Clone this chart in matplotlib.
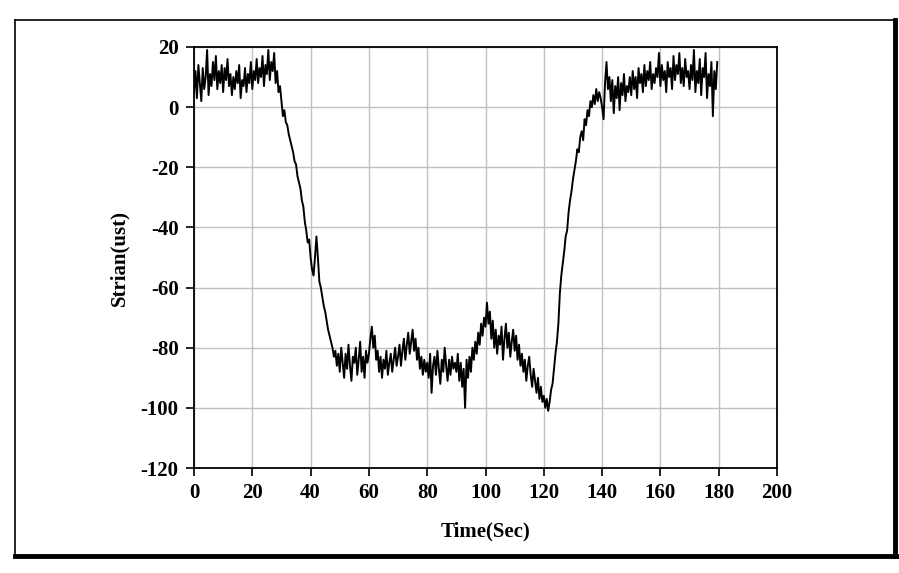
import numpy as np
import matplotlib
matplotlib.use("Agg")
import matplotlib.pyplot as plt
from matplotlib.lines import Line2D

# strain readings, one every 0.5 s
strain = [
    # 0 - 10 s
    5, 12, 3, 14, 8, 2, 13, 6, 10, 19, 4, 11, 7, 15, 9, 17, 6, 12, 8, 14,
    # 10 - 20 s
    5, 13, 9, 16, 7, 11, 4, 10, 6, 12, 8, 14, 3, 9, 7, 13, 5, 11, 8, 15,
    # 20 - 30 s
    6, 12, 9, 16, 8, 13, 10, 17, 7, 14, 11, 19, 9, 15, 12, 18, 8, 12, 5, 7,
    # 30 - 40 s
    2, -3, -1, -5, -6, -9, -11, -13, -15, -18, -19, -23, -25, -27, -31, -33, -38, -41, -45, -44,
    # 40 - 50 s
    -50, -54, -56, -50, -43, -50, -58, -60, -63, -66, -68, -71, -74, -76, -78, -80, -83, -81, -86, -82,
    # 50 - 60 s
    -88, -80, -85, -90, -82, -87, -79, -86, -91, -83, -85, -80, -89, -84, -78, -88, -83, -90, -81, -85,
    # 60 - 70 s
    -82, -77, -73, -80, -76, -84, -81, -88, -83, -90, -84, -87, -81, -89, -85, -82, -88, -84, -80, -86,
    # 70 - 80 s
    -83, -79, -86, -81, -77, -84, -79, -75, -82, -78, -74, -81, -77, -84, -80, -87, -83, -89, -84, -88,
    # 80 - 90 s
    -85, -90, -82, -95, -86, -83, -89, -81, -87, -92, -84, -88, -80, -86, -91, -84, -89, -83, -87, -85,
    # 90 - 100 s
    -88, -82, -91, -85, -93, -87, -100, -84, -90, -83, -88, -80, -84, -78, -82, -75, -79, -72, -76, -70,
    # 100 - 110 s
    -73, -65, -72, -68, -77, -71, -80, -74, -82, -76, -79, -73, -84, -77, -72, -80, -75, -83, -78, -74,
    # 110 - 120 s
    -81, -76, -84, -79, -86, -82, -88, -84, -91, -86, -83, -89, -93, -87, -91, -95, -90, -97, -93, -98,
    # 120 - 130 s
    -96, -100, -97, -101, -98, -94, -92, -87, -82, -78, -72, -62, -56, -52, -48, -43, -41, -35, -31, -28,
    # 130 - 140 s
    -24, -21, -18, -14, -15, -10, -8, -11, -4, -6, -1, -3, 2, 0, 4, 1, 6, 2, 5, 3,
    # 140 - 150 s
    0, -4, 8, 15, 6, 10, 2, 9, -2, 7, 3, 10, -1, 8, 4, 11, 2, 7, 5, 10,
    # 150 - 160 s
    4, 12, 6, 10, 3, 13, 8, 11, 5, 14, 7, 12, 9, 15, 6, 11, 8, 13, 10, 18,
    # 160 - 170 s
    7, 14, 9, 12, 5, 15, 10, 13, 6, 17, 9, 14, 11, 18, 8, 13, 7, 16, 10, 12,
    # 170 - 180 s
    6, 14, 9, 19, 5, 12, 8, 16, 4, 13, 10, 18, 3, 11, 7, 15, -3, 12, 6, 15,
]
time = np.arange(len(strain)) * 0.5

x_ticks = np.arange(0, 201, 20)
y_ticks = np.arange(-120, 21, 20)

plt.rcParams['font.family'] = ['Liberation Serif', 'DejaVu Serif']
plt.rcParams['font.weight'] = 'bold'
plt.rcParams['axes.unicode_minus'] = False

fig = plt.figure(figsize=(8.99, 5.73), dpi=100)
ax = fig.add_axes([0.2158, 0.1832, 0.6485, 0.7348])

ax.plot(time, strain, color='black', lw=1.4)

ax.set_xlim(0, 200)
ax.set_ylim(-120, 20)
ax.set_xticks(x_ticks)
ax.set_yticks(y_ticks)
ax.grid(True, color='#c0c0c0', lw=1.0)
ax.set_axisbelow(True)
for s in ax.spines.values():
    s.set_linewidth(1.3)
ax.tick_params(direction='out', length=6, width=1.2, labelsize=15, pad=5)
for lab in ax.get_xticklabels() + ax.get_yticklabels():
    lab.set_fontweight('bold')

ax.set_xlabel('Time(Sec)', fontsize=15, fontweight='bold', labelpad=13)
ax.set_ylabel('Strian(ust)', fontsize=15, fontweight='bold', labelpad=8)

# outer frame with shadowed right and bottom edges
fig.add_artist(Line2D([15/899, 895/899], [1-20/573, 1-20/573], color='black', lw=1.2, transform=fig.transFigure))
fig.add_artist(Line2D([15/899, 15/899], [1-20/573, 1-556/573], color='black', lw=1.2, transform=fig.transFigure))
fig.add_artist(Line2D([895/899, 895/899], [1-20/573, 1-556/573], color='black', lw=3.5, transform=fig.transFigure))
fig.add_artist(Line2D([15/899, 897/899], [1-556/573, 1-556/573], color='black', lw=3.5, transform=fig.transFigure))

fig.savefig('out.png', dpi=100)
